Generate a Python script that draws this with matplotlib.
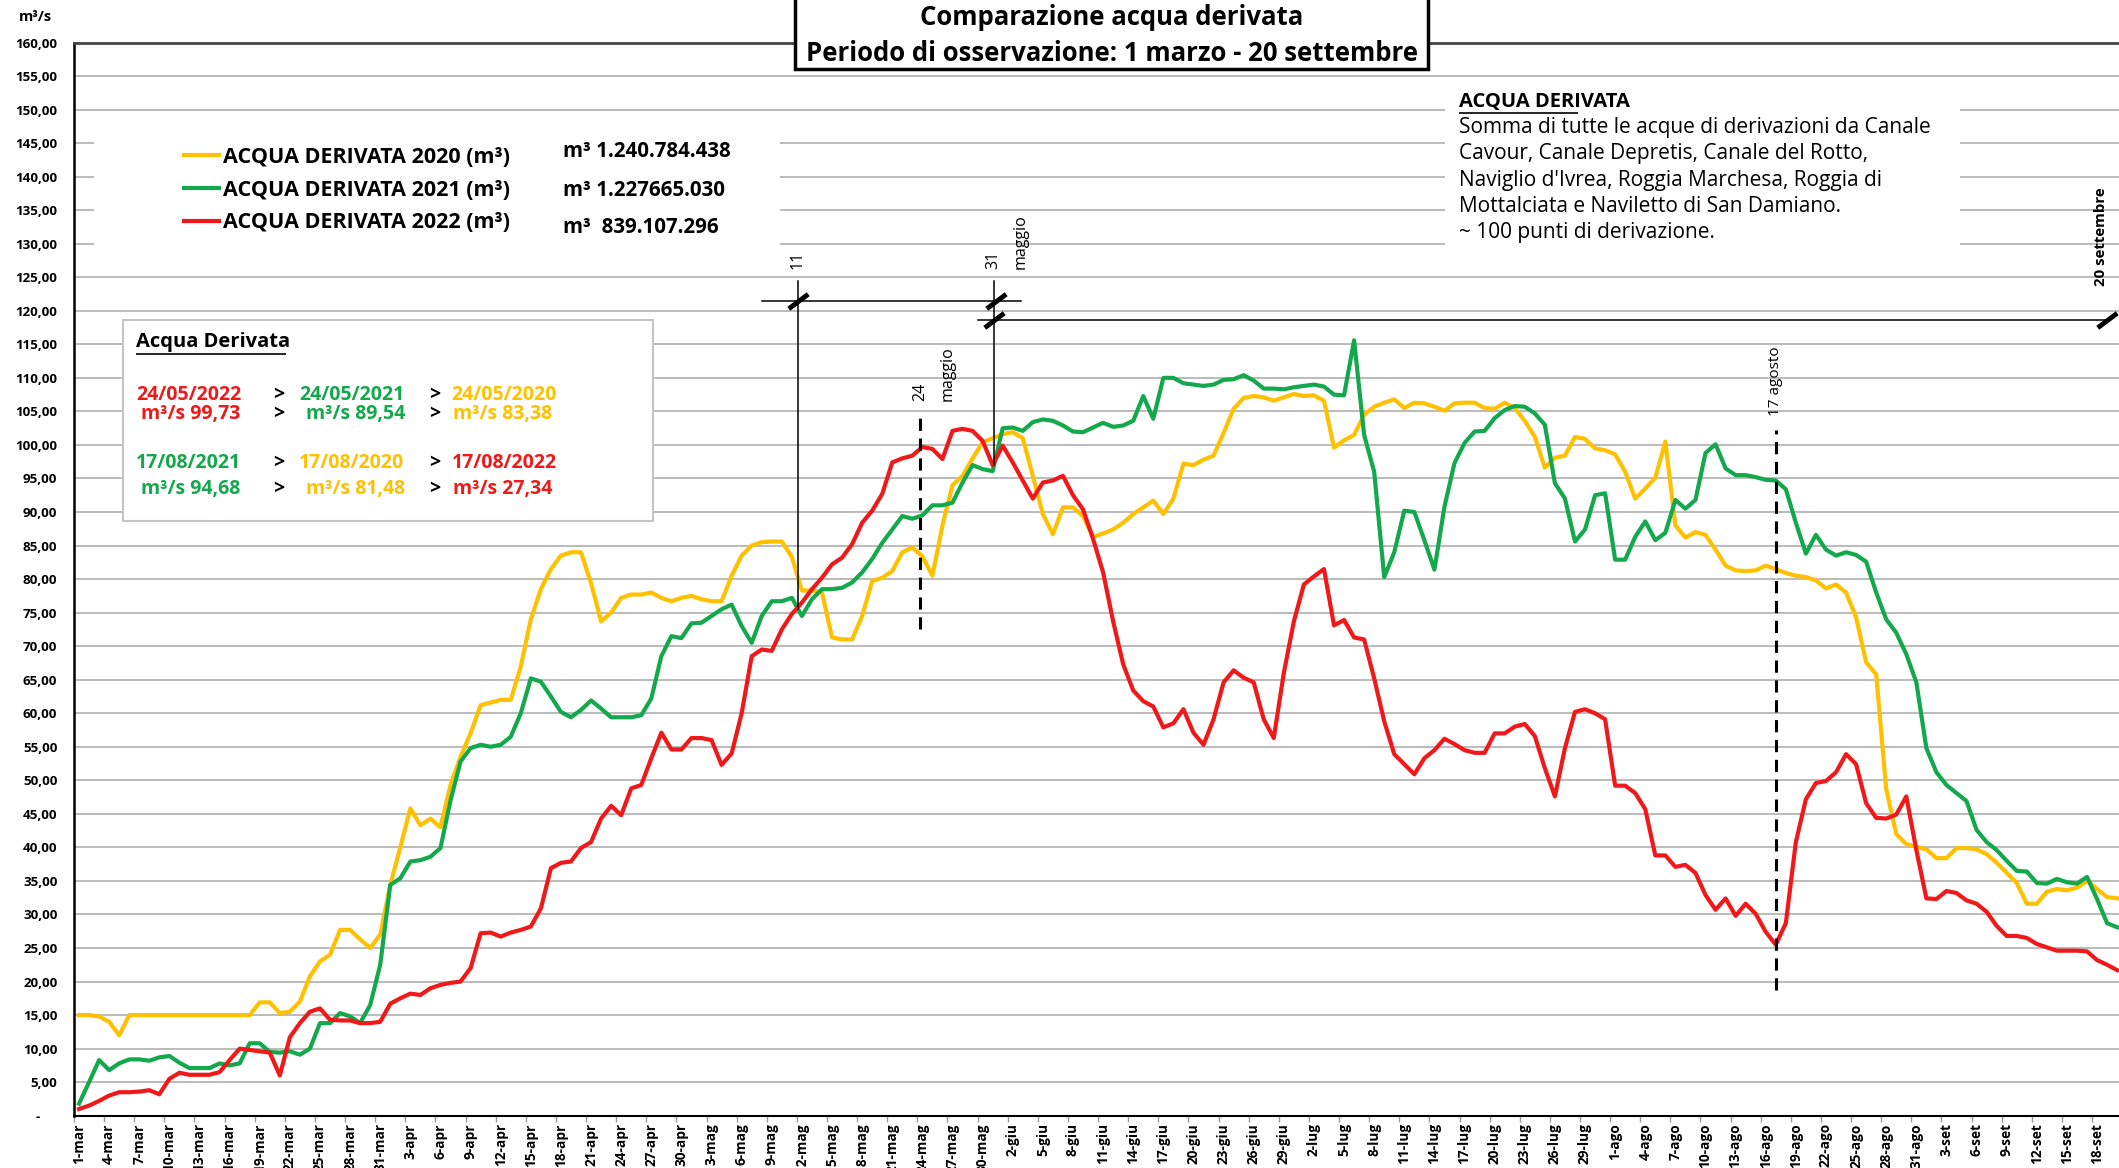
import matplotlib
matplotlib.use('Agg')
import matplotlib.pyplot as plt
import numpy as np
from matplotlib.patches import Rectangle

plt.rcParams['font.family'] = ['Open Sans', 'DejaVu Sans']

# Colors (Excel-like)
c_2020 = '#FFC000'
c_2021 = '#13A84C'
c_2022 = '#F01818'

# Months of the observation period (1 marzo - 20 settembre)
months = ['mar', 'apr', 'mag', 'giu', 'lug', 'ago', 'set']
month_days = [31, 30, 31, 30, 31, 31, 20]

# Daily derived water (m3/s)
val_2020 = [
    15, 15, 14.8, 14, 12, 15, 15, 15, 15, 15,
    15, 15, 15, 15, 15, 15, 15, 15, 16.9, 16.9,
    15.3, 15.5, 17, 20.8, 23, 24, 27.7, 27.7, 26.3, 25,
    27, 34.4, 40, 45.8, 43.3, 44.3, 43, 49.3, 53.5, 57,
    61.2, 61.6, 62, 62, 67, 74, 78.5, 81.5, 83.5, 84,
    84, 79.4, 73.7, 75, 77.2, 77.7, 77.7, 78, 77.2, 76.7,
    77.2, 77.5, 77, 76.7, 76.7, 80.5, 83.5, 85, 85.5, 85.6,
    85.6, 83.3, 78.3, 78.3, 78, 71.3, 71, 71, 74.5, 79.7,
    80.2, 81.2, 84, 84.7, 83.4, 80.5, 88, 94, 95.4, 98,
    100.4, 101, 101.6, 101.9, 101, 95.4, 89.7, 86.7, 90.7, 90.7,
    89.4, 86.3, 86.8, 87.4, 88.4, 89.7, 90.7, 91.7, 89.7, 92,
    97.2, 97, 97.8, 98.4, 101.8, 105.4, 107, 107.3, 107.1, 106.6,
    107.1, 107.6, 107.3, 107.4, 106.6, 99.6, 100.7, 101.5, 104.5, 105.7,
    106.3, 106.8, 105.5, 106.3, 106.2, 105.7, 105.1, 106.2, 106.3, 106.3,
    105.5, 105.4, 106.3, 105.5, 103.6, 101.2, 96.6, 98.1, 98.4, 101.2,
    100.9, 99.5, 99.2, 98.6, 96, 92, 93.5, 95.1, 100.5, 88,
    86.2, 87, 86.6, 84.4, 82, 81.3, 81.2, 81.3, 82, 81.5,
    80.9, 80.5, 80.3, 79.8, 78.6, 79.2, 78, 74.3, 67.6, 65.8,
    48.7, 42, 40.5, 40.1, 39.7, 38.4, 38.4, 39.9, 39.9, 39.7,
    39, 37.7, 36.2, 34.7, 31.6, 31.6, 33.4, 33.8, 33.6, 34,
    35, 33.8, 32.6, 32.4,
]

val_2021 = [
    1.8, 5, 8.3, 6.8, 7.8, 8.4, 8.4, 8.2, 8.7, 8.9,
    7.9, 7.1, 7.1, 7.1, 7.8, 7.5, 7.8, 10.8, 10.8, 9.5,
    9.4, 9.6, 9.1, 10, 13.8, 13.8, 15.3, 14.8, 13.8, 16.5,
    22.5, 34.4, 35.4, 37.9, 38.1, 38.6, 39.9, 47, 52.8, 54.8,
    55.3, 55, 55.3, 56.5, 60, 65.2, 64.7, 62.5, 60.2, 59.4,
    60.5, 61.9, 60.7, 59.4, 59.4, 59.4, 59.7, 62.2, 68.5, 71.5,
    71.2, 73.4, 73.5, 74.5, 75.5, 76.2, 73, 70.5, 74.5, 76.7,
    76.7, 77.2, 74.5, 77, 78.5, 78.5, 78.7, 79.5, 81, 83,
    85.4, 87.4, 89.4, 89, 89.5, 91, 91, 91.4, 94.4, 97,
    96.4, 96.1, 102.5, 102.6, 102.1, 103.4, 103.8, 103.6, 102.9, 102,
    101.9, 102.6, 103.3, 102.7, 102.9, 103.6, 107.3, 103.9, 110, 110,
    109.2, 109, 108.8, 109, 109.7, 109.8, 110.4, 109.6, 108.4, 108.4,
    108.3, 108.6, 108.8, 109, 108.7, 107.5, 107.4, 115.6, 101.5, 96,
    80.3, 84, 90.2, 90, 85.8, 81.4, 90.8, 97.3, 100.3, 102,
    102.1, 104, 105.2, 105.8, 105.7, 104.7, 103, 94.3, 92, 85.6,
    87.4, 92.5, 92.8, 82.9, 82.9, 86.3, 88.6, 85.8, 86.9, 91.8,
    90.5, 91.8, 98.8, 100.1, 96.5, 95.5, 95.5, 95.2, 94.8, 94.7,
    93.4, 88.4, 83.8, 86.6, 84.4, 83.5, 84, 83.6, 82.6, 78,
    74, 72, 68.8, 64.6, 54.8, 51.2, 49.3, 48.1, 46.9, 42.6,
    40.8, 39.6, 38, 36.5, 36.4, 34.7, 34.6, 35.3, 34.8, 34.6,
    35.6, 32.3, 28.7, 28.1,
]

val_2022 = [
    1, 1.5, 2.2, 3, 3.5, 3.5, 3.6, 3.8, 3.2, 5.5,
    6.4, 6.1, 6.1, 6.1, 6.5, 8.3, 10, 9.8, 9.6, 9.4,
    6, 11.7, 13.8, 15.5, 16, 14.3, 14.2, 14.2, 13.8, 13.8,
    14, 16.7, 17.5, 18.2, 18, 19, 19.5, 19.8, 20, 22,
    27.2, 27.3, 26.7, 27.3, 27.7, 28.2, 30.9, 36.9, 37.7, 37.9,
    39.9, 40.8, 44.3, 46.2, 44.8, 48.8, 49.3, 53.3, 57.1, 54.6,
    54.6, 56.3, 56.3, 56, 52.3, 54, 60, 68.5, 69.5, 69.3,
    72.5, 74.8, 76.5, 78.5, 80.2, 82.2, 83.2, 85.2, 88.4, 90.2,
    92.7, 97.4, 98, 98.4, 99.7, 99.4, 97.9, 102.1, 102.4, 102.1,
    100.6, 97, 99.9, 97.4, 94.7, 92, 94.4, 94.7, 95.4, 92.5,
    90.4, 86, 81, 73.7, 67.3, 63.4, 61.8, 61, 57.9, 58.5,
    60.6, 57.1, 55.3, 59.1, 64.6, 66.4, 65.3, 64.6, 59.1, 56.3,
    66, 73.7, 79.2, 80.4, 81.5, 73.1, 73.9, 71.3, 71, 65.2,
    58.8, 53.9, 52.4, 50.9, 53.3, 54.5, 56.2, 55.4, 54.5, 54.1,
    54.1, 57, 57, 58, 58.4, 56.6, 51.8, 47.6, 54.8, 60.2,
    60.6, 60, 59.1, 49.2, 49.2, 48.1, 45.7, 38.8, 38.8, 37.1,
    37.4, 36.2, 32.9, 30.7, 32.4, 29.8, 31.6, 30.1, 27.4, 25.5,
    28.7, 40.8, 47.2, 49.6, 49.9, 51.2, 53.9, 52.4, 46.6, 44.4,
    44.3, 44.9, 47.6, 39.6, 32.4, 32.3, 33.5, 33.2, 32.1, 31.6,
    30.4, 28.3, 26.8, 26.8, 26.5, 25.6, 25.1, 24.6, 24.6, 24.6,
    24.5, 23.2, 22.5, 21.7,
]

series_labels = ['ACQUA DERIVATA 2020 (m\u00b3)', 'ACQUA DERIVATA 2021 (m\u00b3)',
                 'ACQUA DERIVATA 2022 (m\u00b3)']
series_totals = ['m\u00b3 1.240.784.438', 'm\u00b3 1.227665.030', 'm\u00b3  839.107.296']

# Day labels
day_labels = []
for m, n in zip(months, month_days):
    for d in range(1, n + 1):
        day_labels.append('%d-%s' % (d, m))
n_days = len(day_labels)
x = np.arange(n_days)

# Figure / axes placement (pixel based)
W, H = 2119, 1168
fig = plt.figure(figsize=(W / 100, H / 100), dpi=100)
px_left, px_day = 74, 10.04
px_bottom, px_top = 1115.7, 42.5
ax = fig.add_axes([px_left / W, 1 - px_bottom / H,
                   n_days * px_day / W, (px_bottom - px_top) / H])

# Data lines
ax.plot(x, val_2020, color=c_2020, lw=3, label=series_labels[0], zorder=3)
ax.plot(x, val_2021, color=c_2021, lw=3, label=series_labels[1], zorder=3)
ax.plot(x, val_2022, color=c_2022, lw=3, label=series_labels[2], zorder=3)

ax.set_xlim(-0.5, n_days - 0.5)
ax.set_ylim(0, 160)

# Y axis
ax.set_yticks(np.arange(0, 161, 5))
ax.set_yticklabels(['-     ' if v == 0 else ('%d,00' % v) for v in range(0, 161, 5)])
ax.tick_params(axis='y', length=0, pad=12, labelsize=9.6)
for t in ax.get_yticklabels():
    t.set_fontweight('bold')
ax.yaxis.grid(True, color='#b5b5b5', lw=1.3)
ax.set_axisbelow(True)

# X axis
ax.set_xticks(x[::3])
ax.set_xticklabels(day_labels[::3], rotation=90, fontsize=9.8, fontweight='bold',
                   va='top', ha='center')
ax.set_xticks(np.arange(-0.5, n_days, 3), minor=True)
ax.tick_params(axis='x', which='major', length=0, pad=5.5)
ax.tick_params(axis='x', which='minor', length=4.5, color='#999999', width=1)

ax.spines['right'].set_visible(False)
ax.spines['left'].set_linewidth(1.8)
ax.spines['bottom'].set_linewidth(1.5)
ax.spines['top'].set_color('#444444')
ax.spines['top'].set_linewidth(2)

fig.text(35 / W, 1 - 17 / H, 'm\u00b3/s', fontsize=10.5, fontweight='bold',
         ha='center', va='center')

# White text areas hiding the gridlines
ax.add_patch(Rectangle((1.5, 127.5), 68.3, 20.5, facecolor='white', edgecolor='none', zorder=1))
ax.add_patch(Rectangle((136.1, 126.5), 51.2, 26.5, facecolor='white', edgecolor='none', zorder=1))

# Legend with totals
leg = ax.legend(loc='center left', bbox_to_anchor=(0.0539, 0.8625), frameon=False,
                fontsize=15.5, handlelength=1.6, handletextpad=0.2,
                labelspacing=0.55, borderpad=0, borderaxespad=0)
for t in leg.get_texts():
    t.set_fontweight('bold')
for lh in leg.get_lines():
    lh.set_linewidth(3)
for yv, txt in zip([143.8, 138.0, 132.4], series_totals):
    ax.text(48.2, yv, txt, fontsize=14.8, fontweight='bold', va='center', ha='left')

# Box "Acqua Derivata"
ax.add_patch(Rectangle((4.4, 88.6), 52.8, 30.1, facecolor='white', edgecolor='#c4c4c4',
                       lw=1.5, zorder=4))
ax.text(5.7, 115.4, 'Acqua Derivata', fontsize=14.5, fontweight='bold', va='center',
        ha='left', zorder=5)
ax.plot([5.7, 20.6], [113.5, 113.5], color='black', lw=1.2, zorder=5, solid_capstyle='butt')

rows = [
    (107.4, [('24/05/2022', c_2022, 5.7), ('>', 'black', 19.3), ('24/05/2021', c_2021, 21.9),
             ('>', 'black', 34.9), ('24/05/2020', c_2020, 37.1)]),
    (104.6, [('m\u00b3/s 99,73', c_2022, 6.2), ('>', 'black', 19.3), ('m\u00b3/s 89,54', c_2021, 22.6),
             ('>', 'black', 34.9), ('m\u00b3/s 83,38', c_2020, 37.2)]),
    (97.3, [('17/08/2021', c_2021, 5.7), ('>', 'black', 19.3), ('17/08/2020', c_2020, 21.9),
            ('>', 'black', 34.9), ('17/08/2022', c_2022, 37.1)]),
    (93.4, [('m\u00b3/s 94,68', c_2021, 6.2), ('>', 'black', 19.3), ('m\u00b3/s 81,48', c_2020, 22.6),
            ('>', 'black', 34.9), ('m\u00b3/s 27,34', c_2022, 37.2)]),
]
for yv, items in rows:
    for txt, col, xv in items:
        ax.text(xv, yv, txt, color=col, fontsize=14, fontweight='bold', va='center',
                ha='left', zorder=5)

# Right description
ax.text(137.4, 151.2, 'ACQUA DERIVATA', fontsize=14.5, fontweight='bold', va='center', ha='left')
ax.plot([137.4, 149.3], [149.5, 149.5], color='black', lw=1.2, solid_capstyle='butt')
desc = ['Somma di tutte le acque di derivazioni da Canale',
        'Cavour, Canale Depretis, Canale del Rotto,',
        "Naviglio d'Ivrea, Roggia Marchesa, Roggia di",
        'Mottalciata e Naviletto di San Damiano.',
        '~ 100 punti di derivazione.']
for i, line in enumerate(desc):
    ax.text(137.4, 147.3 - i * 3.9, line, fontsize=15, va='center', ha='left')

# Title box
ax.add_patch(Rectangle((71.3, 156.0), 63.1, 14, facecolor='white', edgecolor='black',
                       lw=2.5, zorder=6, clip_on=False))
ax.text(102.85, 163.7, 'Comparazione acqua derivata', fontsize=18.5, fontweight='bold',
        ha='center', va='center', zorder=7, clip_on=False)
ax.text(102.85, 158.3, 'Periodo di osservazione: 1 marzo - 20 settembre', fontsize=18.5,
        fontweight='bold', ha='center', va='center', zorder=7, clip_on=False)

# Period markers
slash = [(-1, -0.75), (1, 0.75)]
ax.plot([71.6, 71.6], [75.5, 124.5], color='black', lw=1.1, zorder=4)
ax.plot([91.1, 91.1], [97.0, 124.5], color='black', lw=1.1, zorder=4)
ax.plot([68.0, 93.8], [121.4, 121.4], color='black', lw=1.1, zorder=4)
ax.plot([89.5, 202.0], [118.6, 118.6], color='black', lw=1.1, zorder=4)
ax.plot([71.6, 91.3], [121.4, 121.4], ls='none', marker=slash, ms=14, mew=3.5,
        color='black', zorder=5)
ax.plot([91.1, 202.0], [118.6, 118.6], ls='none', marker=slash, ms=14, mew=3.5,
        color='black', zorder=5)
ax.text(71.6, 126.3, '11', rotation=90, fontsize=11.5, ha='center', va='bottom')
ax.text(91.1, 126.3, '31', rotation=90, fontsize=11.5, ha='center', va='bottom')
ax.text(93.8, 126.3, 'maggio', rotation=90, fontsize=11.5, ha='center', va='bottom')

ax.plot([83.8, 83.8], [72.5, 104.4], color='black', lw=2.2, ls=(0, (4, 2.5)), zorder=4)
ax.text(83.8, 106.6, '24', rotation=90, fontsize=11.5, ha='center', va='bottom')
ax.text(86.5, 106.6, 'maggio', rotation=90, fontsize=11.5, ha='center', va='bottom')

ax.plot([169.0, 169.0], [18.8, 102.2], color='black', lw=2.2, ls=(0, (4, 2.5)), zorder=4)
ax.text(169.0, 104.3, '17 agosto', rotation=90, fontsize=11, ha='center', va='bottom')

ax.text(201.4, 123.7, '20 settembre', rotation=90, fontsize=10.8, fontweight='bold',
        ha='center', va='bottom')

fig.savefig('out.png', dpi=100)
